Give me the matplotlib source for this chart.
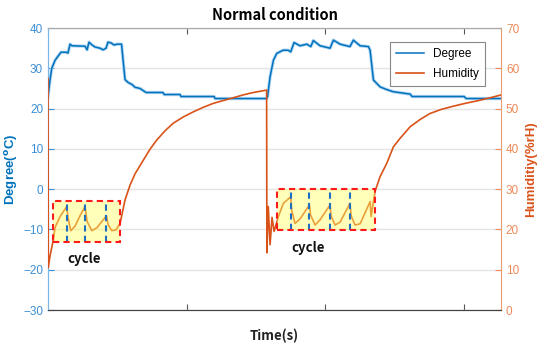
import matplotlib.pyplot as plt
from matplotlib.patches import Rectangle

# time axis (arbitrary seconds, no tick labels shown)
deg_t = [0, 14, 27, 51, 72, 94, 130, 144, 159, 173, 267, 282, 296, 318, 339,
         375, 397, 419, 433, 455, 477, 498, 531, 542, 556, 578, 606, 628, 664,
         708, 830, 838, 953, 960, 1199, 1206, 1578, 1585, 1603, 1627, 1651,
         1697, 1733, 1752, 1776, 1819, 1868, 1897, 1915, 1964, 2036, 2060,
         2108, 2180, 2204, 2253, 2313, 2325, 2349, 2397, 2440, 2491, 2614,
         2628, 3004, 3018, 3271]
deg_v = [23, 27, 30, 32, 33, 34, 34, 33.8, 36, 35.6, 35.5, 34.6, 36.5, 35.8,
         35.3, 35, 34.6, 35, 36.5, 36.3, 35.8, 36, 36, 32, 27.2, 26.5, 26,
         25.3, 25, 24, 24, 23.5, 23.5, 23, 23, 22.5, 22.5, 23, 27.9, 32, 33.7,
         34.5, 34.5, 34.1, 36.4, 35.6, 36, 35.4, 36.9, 35.6, 35, 37, 36, 35.4,
         37, 35.6, 35.4, 34.5, 27.1, 25.4, 24.8, 24.2, 23.6, 23, 23, 22.5, 22.5]

hum_t = [0, 2, 14, 38, 51, 87, 135, 144, 164, 195, 231, 267, 282, 316, 352,
         422, 433, 460, 491, 520, 556, 592, 628, 688, 736, 785, 845, 905, 975,
         1049, 1119, 1193, 1264, 1338, 1408, 1482, 1530, 1578, 1580, 1590,
         1603, 1617, 1632, 1663, 1699, 1752, 1759, 1783, 1819, 1887, 1895,
         1928, 1964, 2036, 2043, 2072, 2108, 2180, 2188, 2216, 2253, 2325,
         2332, 2347, 2361, 2397, 2445, 2493, 2541, 2614, 2686, 2758, 2838,
         2926, 3011, 3095, 3181, 3271]
hum_v = [57.5, 10.5, 13.3, 17.4, 20.5, 23.2, 25.7, 23, 19.7, 20.8, 23.4, 25.7,
         22, 19.7, 20.4, 23.4, 21.3, 19.7, 19.9, 21.5, 27.3, 31, 33.8, 37.2,
         39.9, 42.2, 44.5, 46.4, 47.9, 49.2, 50.3, 51.3, 52, 52.7, 53.4, 54,
         54.3, 54.6, 14.2, 25.7, 16.2, 23, 19.5, 23.2, 26.5, 28.1, 24.8, 21.5,
         22.6, 26.1, 23.6, 21.1, 22.4, 26.1, 23.4, 21.1, 21.8, 26.5, 23.4,
         21.1, 21.4, 26.9, 23.2, 26.5, 29.5, 33.1, 36.4, 40.5, 42.6, 45.5,
         47.3, 48.8, 49.8, 50.6, 51.3, 51.9, 52.6, 53.4]

# cycle highlight boxes on humidity axis: (t0, t1, h0, h1) and cycle marks
cycle_boxes = [(38, 520, 17, 27.1), (1651, 2361, 19.9, 30)]
cycle_marks = [[135, 267, 419], [1752, 1887, 2036, 2180]]
cycle_text = [(260, 12.6), (1880, 15.5)]

blue = '#0072BD'
orange = '#D95319'
label_font = ['Noto Sans CJK KR', 'DejaVu Sans']

plt.rcParams['font.family'] = ['Liberation Sans', 'DejaVu Sans']

fig = plt.figure(figsize=(5.37, 3.43), dpi=100)
ax = fig.add_axes([0.0894, 0.0962, 0.8436, 0.822])
ax2 = ax.twinx()

ax.plot(deg_t, deg_v, color='#b3d6f2', lw=2.4, zorder=2)
l1, = ax.plot(deg_t, deg_v, color=blue, lw=1.1, zorder=3, label='Degree')
l2, = ax2.plot(hum_t, hum_v, color=orange, lw=1.2, zorder=3, label='Humidity')

ax.set_xlim(0, 3270)
ax.set_ylim(-30, 40)
ax2.set_ylim(0, 70)
ax.set_xticks([1000, 2000, 3000])
ax.set_xticklabels([])
ax.set_yticks(range(-30, 41, 10))
ax2.set_yticks(range(0, 71, 10))
ax.yaxis.grid(True, color='#e4e4e4', lw=1)
ax.set_axisbelow(True)

ax.tick_params(axis='x', direction='in', top=True, length=4, color='#555555')
ax.tick_params(axis='y', direction='in', length=4, colors='#3d8fd6', labelsize=8.5)
ax2.tick_params(axis='y', direction='in', length=4, colors='#ec8a5a', labelsize=8.5)

ax.spines['left'].set_color('#7ab6e6')
ax2.spines['left'].set_color('#7ab6e6')
ax2.spines['right'].set_color('#ec9a70')
ax.spines['right'].set_visible(False)
for a in (ax, ax2):
    a.spines['bottom'].set_color('#444444')
    a.spines['top'].set_color('#aaaaaa')

# cycle boxes
for (t0, t1, h0, h1), marks, (tx, ty) in zip(cycle_boxes, cycle_marks, cycle_text):
    ax2.add_patch(Rectangle((t0, h0), t1 - t0, h1 - h0, facecolor='#ffff66',
                            alpha=0.45, edgecolor='none', zorder=4))
    ax2.add_patch(Rectangle((t0, h0), t1 - t0, h1 - h0, facecolor='none',
                            edgecolor='#ff1a1a', lw=1.5, ls=(0, (3, 2)), zorder=6))
    for m in marks:
        ax2.plot([m, m], [h0, h1], color='#1f6fc0', lw=1.5, ls=(0, (3, 2)), zorder=5)
    ax2.text(tx, ty, 'cycle', ha='center', va='center', fontsize=9.5,
             fontweight='bold', family=label_font, color='#111111', zorder=7)

ax.set_title('Normal condition', fontsize=10.5, fontweight='bold',
             family=label_font, pad=6)
ax.set_xlabel('Time(s)', fontsize=9.5, fontweight='bold', family=label_font,
              labelpad=10, color='#222222')
ax.set_ylabel('Degree($\\mathbf{^o}$C)', fontsize=9.5, fontweight='bold',
              color=blue, labelpad=2)
ax2.set_ylabel('Humiditiy(%rH)', fontsize=9.5, fontweight='bold',
               color=orange, labelpad=4)

leg = ax2.legend(handles=[l1, l2], loc='upper right',
                 bbox_to_anchor=(0.978, 0.972), fancybox=False,
                 edgecolor='#888888', framealpha=1, fontsize=8.5,
                 handlelength=2.4, borderpad=0.5, labelspacing=0.7)
leg.get_frame().set_linewidth(0.8)
leg.set_zorder(10)

fig.savefig('out.png', dpi=100)
